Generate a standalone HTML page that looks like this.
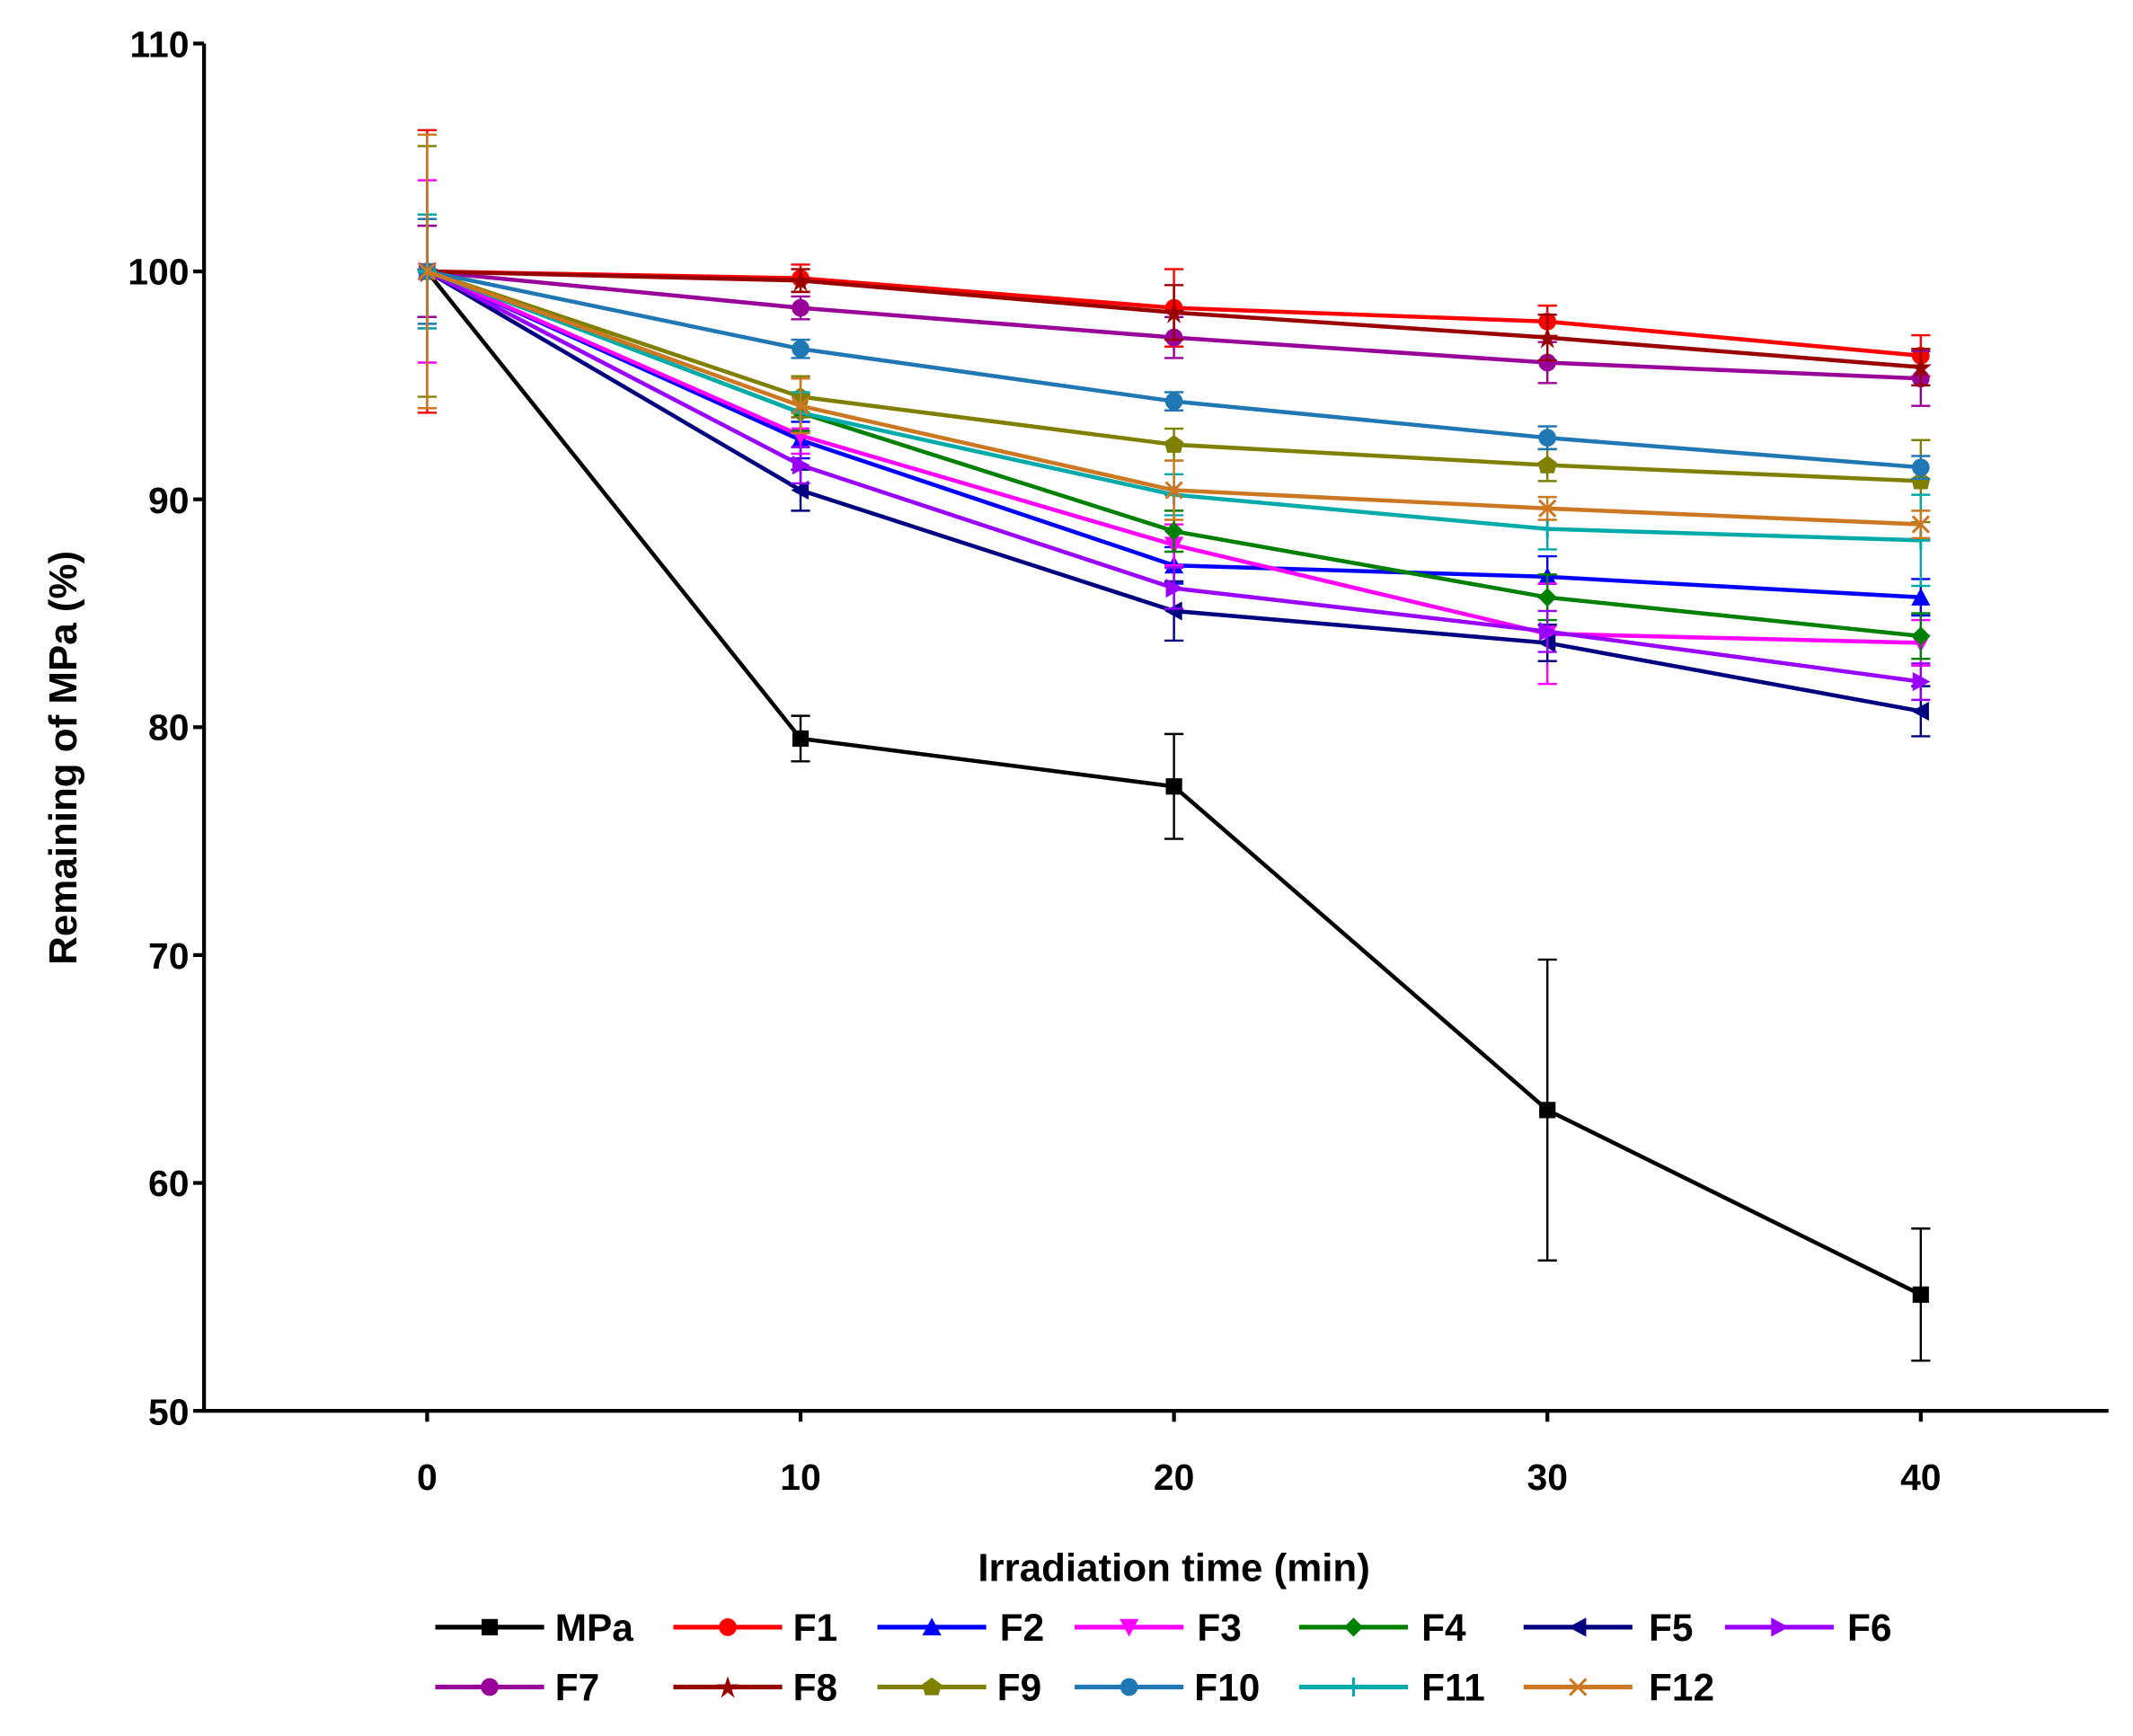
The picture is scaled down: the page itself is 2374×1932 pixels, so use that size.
<!DOCTYPE html>
<html><head><meta charset="utf-8"><style>
html,body{margin:0;padding:0;background:#fff;}
svg{display:block;}
text{font-family:"Liberation Sans",Arial,sans-serif;font-weight:bold;fill:#000;}
</style></head><body>
<svg id="s" width="2374" height="1932" viewBox="0 0 1568 1276" preserveAspectRatio="none" xmlns="http://www.w3.org/2000/svg">
<g stroke="#000" stroke-width="2.8" fill="none">
<line x1="150" y1="32" x2="150" y2="1038"/>
<line x1="149" y1="1037" x2="1550" y2="1037"/>
<line x1="142" y1="32" x2="150" y2="32"/>
<line x1="142" y1="199.5" x2="150" y2="199.5"/>
<line x1="142" y1="367" x2="150" y2="367"/>
<line x1="142" y1="534.5" x2="150" y2="534.5"/>
<line x1="142" y1="702" x2="150" y2="702"/>
<line x1="142" y1="869.5" x2="150" y2="869.5"/>
<line x1="142" y1="1037" x2="150" y2="1037"/>
<line x1="314" y1="1037" x2="314" y2="1045"/>
<line x1="588.5" y1="1037" x2="588.5" y2="1045"/>
<line x1="863" y1="1037" x2="863" y2="1045"/>
<line x1="1137.5" y1="1037" x2="1137.5" y2="1045"/>
<line x1="1412" y1="1037" x2="1412" y2="1045"/>
</g>
<g font-size="27" text-anchor="end">
<text x="139" y="42">110</text><text x="139" y="209">100</text><text x="139" y="377">90</text>
<text x="139" y="544">80</text><text x="139" y="712">70</text><text x="139" y="879">60</text><text x="139" y="1047">50</text>
</g>
<g font-size="27" text-anchor="middle">
<text x="314" y="1095">0</text><text x="588.5" y="1095">10</text><text x="863" y="1095">20</text>
<text x="1137.5" y="1095">30</text><text x="1412" y="1095">40</text>
</g>
<text x="863" y="1162" font-size="29" text-anchor="middle">Irradiation time (min)</text>
<text transform="translate(56,557) rotate(-90)" font-size="29" text-anchor="middle">Remaining of MPa (%)</text>
<g id="series"></g>
<g id="legend" font-size="28">
<text x="408" y="1206">MPa</text><text x="583" y="1206">F1</text><text x="735" y="1206">F2</text>
<text x="880" y="1206">F3</text><text x="1045" y="1206">F4</text><text x="1212" y="1206">F5</text><text x="1358" y="1206">F6</text>
<text x="408" y="1250">F7</text><text x="583" y="1250">F8</text><text x="733" y="1250">F9</text>
<text x="878" y="1250">F10</text><text x="1045" y="1250">F11</text><text x="1212" y="1250">F12</text>
</g>
</svg>
<script>
var S=[
["MPa","#000",[100,79.5,77.4,63.2,55.1],[0,1,2.3,6.6,2.9],"sq",320,1196],
["F1","#ff0000",[100,99.7,98.4,97.8,96.3],[6.2,0.6,1.7,0.7,0.9],"ci",495,1196],
["F2","#0000ff",[100,92.6,87.1,86.6,85.7],[2,0.8,0.8,0.9,0.8],"tu",645,1196],
["F3","#ff00ff",[100,92.8,88.0,84.1,83.7],[4,0.8,0.9,2.2,1],"td",790,1196],
["F4","#008000",[100,93.8,88.6,85.7,84.0],[2,0.8,0.9,1,1],"di",955,1196],
["F5","#000080",[100,90.4,85.1,83.7,80.7],[2,0.9,1.3,0.8,1.1],"tl",1120,1196],
["F6","#9900ff",[100,91.5,86.1,84.2,82.0],[2,0.8,0.9,0.9,0.8],"tr",1268,1196],
["F7","#990099",[100,98.4,97.1,96.0,95.3],[2,0.5,0.9,0.9,1.2],"hx",320,1240],
["F8","#990000",[100,99.6,98.2,97.1,95.8],[2.5,0.5,1.2,1,0.8],"st",495,1240],
["F9","#808000",[100,94.5,92.4,91.5,90.8],[5.5,0.9,0.7,0.7,1.8],"pe",645,1240],
["F10","#1f77b4",[100,96.6,94.3,92.7,91.4],[2.3,0.4,0.4,0.5,0.5],"ci",790,1240],
["F11","#00aaaa",[100,93.8,90.2,88.7,88.2],[2.5,0.9,0.9,0.9,2],"pl",955,1240],
["F12","#cc7722",[100,94.1,90.4,89.6,88.9],[6,1.2,1.3,0.5,0.6],"x",1120,1240]];
var NS="http://www.w3.org/2000/svg",g=document.getElementById("series");
function el(t,a,p){var e=document.createElementNS(NS,t);for(var k in a)e.setAttribute(k,a[k]);(p||g).appendChild(e);return e;}
function X(i){return 314+i*274.5;}function Y(v){return 1037-(v-50)*16.75;}
function mk(t,x,y,c){
 if(t=="sq")el("rect",{x:x-6,y:y-6,width:12,height:12,fill:c});
 else if(t=="ci"||t=="hx")el("circle",{cx:x,cy:y,r:6.5,fill:c});
 else if(t=="tu")el("polygon",{points:[x,y-7,x+7,y+6,x-7,y+6].join(" "),fill:c});
 else if(t=="td")el("polygon",{points:[x,y+7,x+7,y-6,x-7,y-6].join(" "),fill:c});
 else if(t=="tl")el("polygon",{points:[x-7,y,x+6,y-7,x+6,y+7].join(" "),fill:c});
 else if(t=="tr")el("polygon",{points:[x+7,y,x-6,y-7,x-6,y+7].join(" "),fill:c});
 else if(t=="di")el("polygon",{points:[x,y-7,x+7,y,x,y+7,x-7,y].join(" "),fill:c});
 else if(t=="pe")el("polygon",{points:[x,y-7,x+7,y-2,x+5,y+6,x-5,y+6,x-7,y-2].join(" "),fill:c});
 else if(t=="st")el("polygon",{points:[x,y-8,x+2,y-2,x+8,y-2,x+3,y+2,x+5,y+8,x,y+4,x-5,y+8,x-3,y+2,x-8,y-2,x-2,y-2].join(" "),fill:c});
 else if(t=="pl")el("path",{d:"M"+(x-7)+" "+y+"h14M"+x+" "+(y-7)+"v14",stroke:c,"stroke-width":2});
 else if(t=="x")el("path",{d:"M"+(x-6)+" "+(y-6)+"l12 12M"+(x+6)+" "+(y-6)+"l-12 12",stroke:c,"stroke-width":2});
}
S.forEach(function(s){var c=s[1],p=[];
 for(var i=0;i<5;i++){var x=X(i),y=Y(s[2][i]);p.push(x+","+y);
  var e=s[3][i]*16.75;if(e>0){el("path",{d:"M"+x+" "+(y-e)+"V"+(y+e)+"M"+(x-7)+" "+(y-e)+"h14M"+(x-7)+" "+(y+e)+"h14",stroke:c,"stroke-width":1.6,fill:"none"});}}
 el("polyline",{points:p.join(" "),stroke:c,"stroke-width":3,fill:"none"});
 for(var i=0;i<5;i++)mk(s[4],X(i),Y(s[2][i]),c);
 var lx=s[5],ly=s[6];el("line",{x1:lx,y1:ly,x2:lx+80,y2:ly,stroke:c,"stroke-width":3.5});mk(s[4],lx+40,ly,c);
});
</script>
</body></html>
